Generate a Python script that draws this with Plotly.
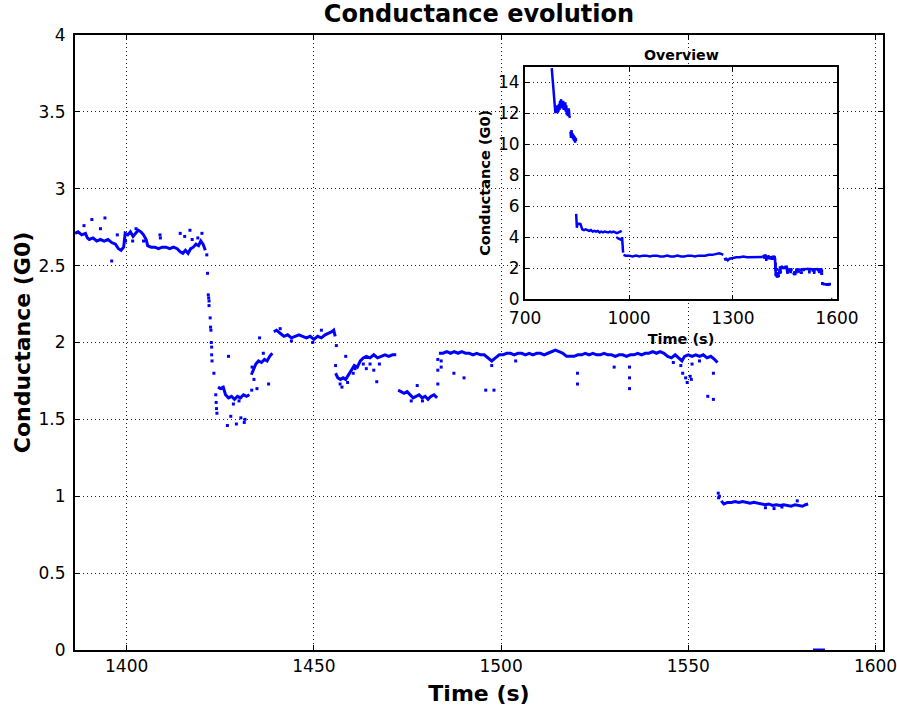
import plotly.graph_objects as go

# ---------------- main view data (time in s, conductance in G0) ----------------
main_time = [
    1386.2, 1387, 1388, 1389, 1389.5, 1390, 1391, 1392, 1393, 1394, 1395, 1396, 1397, 1397.8, 1398.5, 1399.2,
    1399.6, 1400.3, 1401, 1401.7, 1402.4, 1403.1, 1403.8, 1404.5, 1405.2, 1405.6, 1406.5, 1407.5, 1408.5,
    1409.5, 1410.5, 1411.5, 1412.5, 1413.5, 1414.3, 1415, 1415.7, 1416.4, 1417.1, 1417.8, 1418.5, 1419.2,
    1419.8, 1420.4, 1421, None,
    1424.4, 1425, 1425.8, 1426.4, 1427.2, 1428, 1428.8, 1429.6, 1430.4, 1431.2, 1432, 1432.8, None,
    1433.3, 1433.9, 1434.5, 1435.2, 1436, 1436.8, 1437.5, 1438.2, 1438.9, None,
    1439.3, 1440, 1441, 1442, 1443, 1444, 1445, 1446, 1447, 1448, 1449, 1450, 1451, 1452, 1453, 1454,
    1454.8, 1455.3, 1455.7, None,
    1455.8, 1456.4, 1457.1, 1457.8, 1458.5, 1459.2, 1460, 1460.8, 1461.6, 1462.4, 1463.2, 1464, 1465, 1466,
    1467, 1468, 1469, 1470, 1471, 1472, None,
    1472.5, 1473.3, 1474.1, 1474.9, 1475.7, 1476.5, 1477.3, 1478.1, 1478.9, 1479.7, 1480.5, 1481.3, 1482.1,
    1482.9, None,
    1483.4, 1484.5, 1485.5, 1486.5, 1487.5, 1488.5, 1489.5, 1490.5, 1491.5, 1492.5, 1493.5, 1494.5, 1495.5,
    1496.5, 1497.5, 1498.5, 1499.5, 1500.5, 1501.5, 1502.5, 1503.5, 1504.5, 1505.5, 1506.5, 1507.5, 1508.5,
    1509.5, 1510.5, 1511.5, 1512.5, 1513.5, 1514.5, 1515.5, 1516.5, 1517.5, 1518.5, 1519.5, 1520.5, 1521.5,
    1522.5, 1523.5, 1524.5, 1525.5, 1526.5, 1527.5, 1528.5, 1529.5, 1530.5, 1531.5, 1532.5, 1533.5, 1534.5,
    1535.5, 1536.5, 1537.5, 1538.5, 1539.5, 1540.5, 1541.5, 1542.5, 1543.5, 1544.5, 1545.5, 1546.5, 1547.5,
    1548.3, 1549, 1550, 1551, 1552, 1553, 1554, 1555, 1556, 1557, 1557.8, None,
    1558.8, 1559.5, 1560.5, 1561.5, 1562.5, 1563.5, 1564.5, 1565.5, 1566.5, 1567.5, 1568.5, 1569.5, 1570.5,
    1571.5, 1572.5, 1573.5, 1574.5, 1575.5, 1576.5, 1577.5, 1578.5, 1579.5, 1580.5, 1581.3, 1582, None,
    1583.3, 1586.5,
]
main_cond = [
    2.71, 2.72, 2.70, 2.71, 2.68, 2.67, 2.68, 2.66, 2.67, 2.66, 2.67, 2.65, 2.64, 2.61, 2.60, 2.62,
    2.71, 2.70, 2.72, 2.69, 2.71, 2.73, 2.72, 2.70, 2.67, 2.63, 2.62, 2.62, 2.61,
    2.62, 2.62, 2.61, 2.62, 2.61, 2.59, 2.58, 2.60, 2.58, 2.61, 2.62, 2.64, 2.63,
    2.66, 2.64, 2.60, None,
    1.71, 1.70, 1.71, 1.66, 1.64, 1.65, 1.63, 1.65, 1.64, 1.66, 1.65, 1.66, None,
    1.79, 1.82, 1.86, 1.88, 1.87, 1.89, 1.88, 1.91, 1.93, None,
    2.07, 2.08, 2.06, 2.04, 2.05, 2.03, 2.04, 2.05, 2.04, 2.03, 2.04, 2.02, 2.04, 2.03, 2.05, 2.06,
    2.07, 2.08, 2.04, None,
    1.80, 1.77, 1.76, 1.77, 1.76, 1.79, 1.82, 1.85, 1.84, 1.88, 1.90, 1.91, 1.90, 1.92,
    1.90, 1.91, 1.92, 1.91, 1.92, 1.92, None,
    1.69, 1.68, 1.67, 1.68, 1.66, 1.64, 1.65, 1.66, 1.64, 1.65, 1.63, 1.65, 1.66,
    1.64, None,
    1.93, 1.93, 1.94, 1.93, 1.94, 1.93, 1.94, 1.93, 1.93, 1.92, 1.93, 1.92, 1.92,
    1.90, 1.88, 1.90, 1.92, 1.92, 1.93, 1.93, 1.92, 1.93, 1.93, 1.92, 1.93, 1.92,
    1.93, 1.93, 1.92, 1.93, 1.94, 1.95, 1.94, 1.93, 1.91, 1.91, 1.91, 1.92, 1.92,
    1.93, 1.92, 1.93, 1.92, 1.92, 1.93, 1.92, 1.92, 1.91, 1.92, 1.92, 1.91, 1.92,
    1.92, 1.93, 1.92, 1.93, 1.93, 1.94, 1.93, 1.94, 1.93, 1.91, 1.90, 1.92, 1.90,
    1.88, 1.91, 1.92, 1.91, 1.92, 1.91, 1.92, 1.90, 1.91, 1.89, 1.87, None,
    0.97, 0.95, 0.96, 0.96, 0.965, 0.96, 0.965, 0.96, 0.955, 0.96, 0.955, 0.95, 0.945,
    0.95, 0.94, 0.945, 0.94, 0.945, 0.94, 0.935, 0.945, 0.94, 0.935, 0.945, 0.95, None,
    0.0, 0.0,
]

# isolated samples (outliers and fast transitions)
scatter_time = [
    1388.6, 1390.7, 1394.2, 1393.0, 1396.0, 1397.5, 1399.7, 1401.6, 1402.5, 1404.5, 1408.9, 1409.0,
    1414.3, 1415.5, 1416.9, 1417.5, 1419.0, 1420.1,
    1421.4, 1421.6, 1421.8, 1421.9, 1422.0, 1422.0, 1422.3, 1422.4, 1422.5, 1422.6, 1422.7, 1422.7,
    1422.8, 1423.3, 1423.8, 1423.9, 1424.0, 1424.1,
    1426.9, 1427.8, 1429.3, 1430.5, 1431.4, 1431.6, 1427.2, 1428.5, 1430.0, 1433.4, 1434.8, 1437.9,
    1435.5, 1436.5, 1434.0, 1433.5,
    1441.0, 1444.0, 1449.7, 1452.0, 1456.0,
    1455.8, 1458.5, 1466.8, 1459.0, 1460.5, 1461.0, 1464.0, 1465.0, 1466.0, 1467.5, 1463.2, 1457.0, 1457.5,
    1477.6, 1483.1, 1483.1, 1483.1, 1476.0, 1479.0,
    1487.4, 1490.1, 1495.9, 1498.1, 1497.5, 1503.9, 1520.4, 1520.4, 1530.2, 1534.3, 1534.3, 1534.3,
    1548.0, 1548.5, 1549.3, 1550.5, 1550.8, 1549.7, 1555.2, 1556.7, 1556.7, 1551.0, 1546.0, 1553.0,
    1484.0, 1484.0,
    1558.0, 1558.1, 1558.3, 1570.6, 1572.9, 1579.1, 1575.0,
]
scatter_cond = [
    2.76, 2.80, 2.81, 2.74, 2.53, 2.70, 2.66, 2.66, 2.74, 2.66, 2.70, 2.68,
    2.71, 2.69, 2.73, 2.67, 2.68, 2.71,
    2.57, 2.45, 2.31, 2.29, 2.27, 2.24, 2.16, 2.10, 2.08, 2.00, 1.97, 1.92,
    1.88, 1.80, 1.66, 1.61, 1.57, 1.54,
    1.46, 1.52, 1.47, 1.51, 1.48, 1.50, 1.91, 1.60, 1.62, 1.69, 1.70, 1.73,
    2.03, 1.93, 1.76, 1.84,
    2.09, 2.01, 2.00, 2.08, 1.98,
    1.85, 1.91, 1.745, 1.74, 1.80, 1.83, 1.83, 1.86, 1.82, 1.86, 1.86, 1.73, 1.71,
    1.72, 1.89, 1.82, 1.73, 1.62, 1.62,
    1.80, 1.77, 1.69, 1.69, 1.85, 1.88, 1.80, 1.73, 1.84, 1.84, 1.77, 1.70,
    1.85, 1.80, 1.77, 1.78, 1.76, 1.74, 1.65, 1.63, 1.80, 1.86, 1.87, 1.88,
    1.88, 1.84,
    1.02, 0.99, 1.00, 0.925, 0.92, 0.97, 0.93,
]

# ---------------- overview data before the main window ----------------
overview_time = [
    777, 778.5, 780, 781.5, 783, 784.5, 786, 787.5, 789, 790.5, 792, 793.5, 795, 796.5, 798, 799.5, 801,
    802.5, 804, 805.5, 807, 808.5, 810, 811.5, 813, 814.5, 816, 817.5, 819, 820.5, 822, 823.5, 825, 826.5,
    828, 829.5, None,
    831, 832.5, 834, 835.5, 837, 838.5, 840, 841.5, 843, 844.5, 846, 847.5, None,
    847.5, 848.5, 849.5, 851, 853, 855, 857, 859, 861, 863, 865, 870, 875, 880, 885, 890, 895, 900, 905,
    910, 915, 920, 925, 930, 935, 940, 945, 950, 955, 960, 965, 970, 975, 979, None,
    964.7, 966, 979, 980, 982, 983, None,
    984, 990, 1000, 1010, 1020, 1030, 1040, 1050, 1060, 1070, 1080, 1090, 1100, 1110, 1120, 1130, 1140,
    1150, 1160, 1170, 1180, 1190, 1200, 1210, 1220, 1230, 1240, 1250, 1260, 1268, 1272, None,
    1274, 1280, 1285, 1290, 1300, 1310, 1320, 1330, 1340, 1350, 1360, 1370, 1380, 1386,
]
overview_cond = [
    14.9, 14.4, 13.9, 13.4, 13.0, 12.6, 12.3, 12.0, 12.4, 12.1, 12.5, 12.0, 12.3, 12.1, 12.6, 12.2, 12.8,
    12.4, 12.9, 12.3, 12.7, 12.5, 12.8, 12.2, 12.6, 12.3, 12.7, 12.1, 12.5, 11.9, 12.2, 11.8, 12.3, 12.2,
    11.8, 11.7, None,
    10.8, 10.4, 10.9, 10.5, 10.7, 10.3, 10.6, 10.2, 10.5, 10.1, 10.4, 10.2, None,
    5.5, 4.9, 4.6, 4.9, 4.8, 4.9, 4.8, 4.9, 4.8, 4.7, 4.5, 4.45, 4.5, 4.45, 4.4, 4.45, 4.35, 4.4, 4.35,
    4.4, 4.3, 4.35, 4.3, 4.35, 4.3, 4.3, 4.35, 4.3, 4.35, 4.3, 4.25, 4.3, 4.35, 4.4, None,
    3.9, 3.95, 3.8, 4.0, 3.3, 3.0, None,
    2.85, 2.8, 2.8, 2.75, 2.8, 2.75, 2.8, 2.8, 2.75, 2.8, 2.8, 2.75, 2.75, 2.8, 2.75, 2.75, 2.8,
    2.75, 2.75, 2.8, 2.8, 2.75, 2.8, 2.8, 2.8, 2.85, 2.85, 2.9, 2.95, 2.9, 2.85, None,
    2.55, 2.6, 2.5, 2.6, 2.65, 2.7, 2.7, 2.75, 2.7, 2.7, 2.7, 2.7, 2.7, 2.71,
]

main_xticks = [1400, 1450, 1500, 1550, 1600]
main_yticks = [0, 0.5, 1, 1.5, 2, 2.5, 3, 3.5, 4]
main_ytick_text = ["0", "0.5", "1", "1.5", "2", "2.5", "3", "3.5", "4"]
inset_xticks = [700, 1000, 1300, 1600]
inset_yticks = [0, 2, 4, 6, 8, 10, 12, 14]

BLUE = "#0000ff"
FONT = "DejaVu Sans"

fig = go.Figure()

# main panel
fig.add_trace(go.Scatter(x=main_time, y=main_cond, mode="lines", line=dict(color=BLUE, width=3),
                         connectgaps=False, xaxis="x", yaxis="y", showlegend=False))
fig.add_trace(go.Scatter(x=scatter_time, y=scatter_cond, mode="markers",
                         marker=dict(color=BLUE, size=3, symbol="square", line=dict(width=0)),
                         xaxis="x", yaxis="y", showlegend=False))

# inset overview
fig.add_trace(go.Scatter(x=overview_time, y=overview_cond, mode="lines", line=dict(color=BLUE, width=2.5),
                         connectgaps=False, xaxis="x2", yaxis="y2", showlegend=False))
fig.add_trace(go.Scatter(x=main_time, y=main_cond, mode="lines", line=dict(color=BLUE, width=2.5),
                         connectgaps=False, xaxis="x2", yaxis="y2", showlegend=False))
fig.add_trace(go.Scatter(x=scatter_time, y=scatter_cond, mode="markers",
                         marker=dict(color=BLUE, size=2.5, symbol="square", line=dict(width=0)),
                         xaxis="x2", yaxis="y2", showlegend=False))

axis_common = dict(
    showline=True, linecolor="black", linewidth=2, mirror="ticks",
    ticks="inside", tickcolor="black", tickwidth=1,
    showgrid=True, gridcolor="#222222", gridwidth=1, griddash="1px,3px",
    zeroline=False, automargin=False, ticklabeloverflow="allow",
)

fig.update_layout(
    width=897, height=707, autosize=False,
    margin=dict(l=75, r=14, t=35, b=57),
    paper_bgcolor="white", plot_bgcolor="white",
    font=dict(family=FONT, color="black"),
    title=dict(text="Conductance evolution", x=0.5, xref="paper", xanchor="center",
               y=1 - 14 / 707, yref="container", yanchor="middle",
               font=dict(family=FONT, size=24, weight="bold", color="black")),
    xaxis=dict(
        **axis_common, range=[1386.2, 1602], domain=[0, 1], anchor="y",
        tickvals=main_xticks, ticklen=5, tickfont=dict(size=17),
        title=dict(text="Time (s)", font=dict(size=22, weight="bold"), standoff=10),
    ),
    yaxis=dict(
        **axis_common, range=[0, 4], domain=[0, 1], anchor="x",
        tickvals=main_yticks, ticktext=main_ytick_text, ticklen=5, tickfont=dict(size=17),
        ticklabelstandoff=4,
        title=dict(text="Conductance (G0)", font=dict(size=22, weight="bold"), standoff=2),
    ),
    xaxis2=dict(
        **axis_common, range=[700, 1600], domain=[0.557, 0.943], anchor="y2",
        tickvals=inset_xticks, ticklen=4, tickfont=dict(size=17), ticklabelstandoff=3,
        title=dict(text="Time (s)", font=dict(size=14.5, weight="bold"), standoff=6),
    ),
    yaxis2=dict(
        **axis_common, range=[0, 15], domain=[0.5707, 0.9485], anchor="x2",
        tickvals=inset_yticks, ticklen=4, tickfont=dict(size=17),
        title=dict(text="Conductance (G0)", font=dict(size=14.5, weight="bold"), standoff=4),
    ),
    annotations=[
        dict(text="Overview", x=0.75, xref="paper", xanchor="center",
             y=0.9485, yref="paper", yanchor="bottom", yshift=2, showarrow=False,
             font=dict(family=FONT, size=14.2, weight="bold", color="black")),
    ],
)

fig.write_html("out.html")
